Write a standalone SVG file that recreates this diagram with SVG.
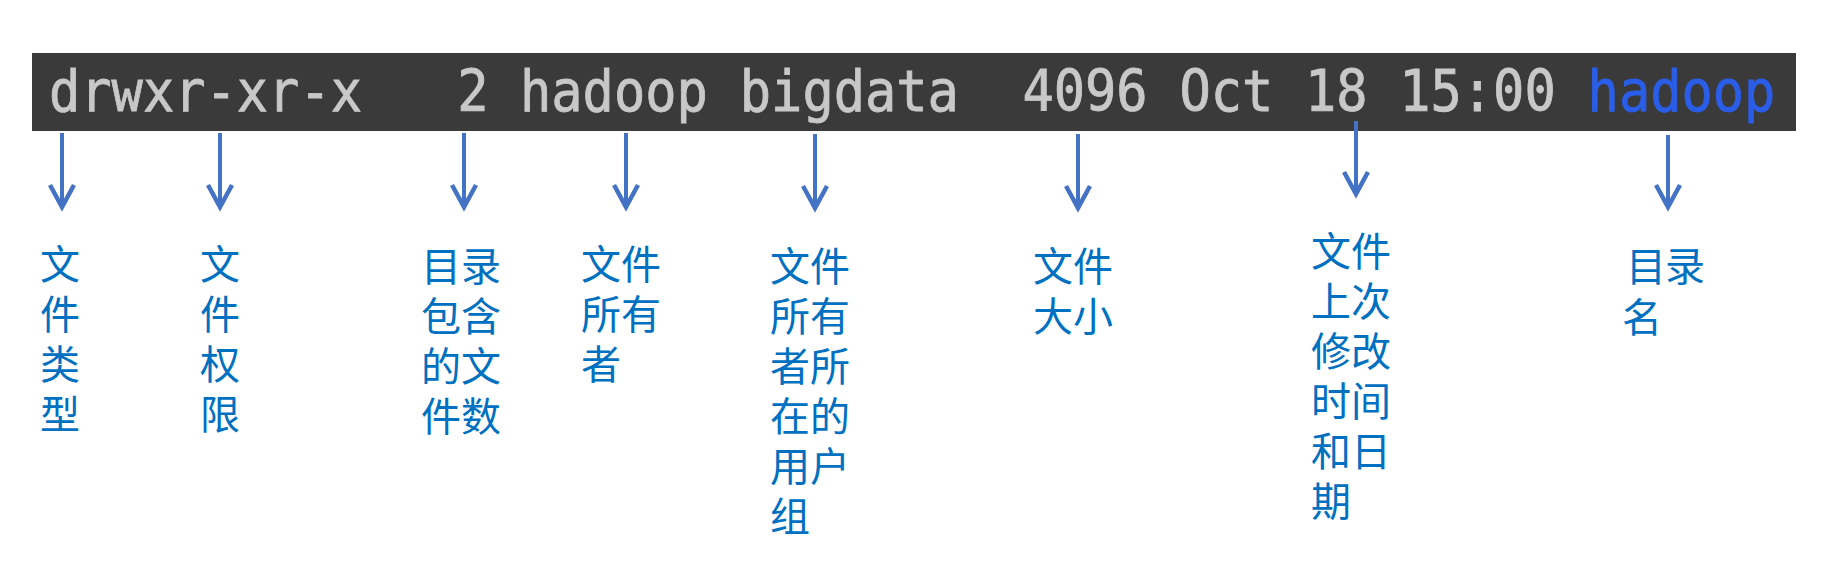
<svg xmlns="http://www.w3.org/2000/svg" width="1836" height="570" viewBox="0 0 1836 570">
<style>
.cmd{font-family:"DejaVu Sans Mono","Liberation Mono",monospace;font-size:52px;fill:#c8c8c8;stroke:#c8c8c8;stroke-width:0.8}
.dir{fill:#2a5ee8;stroke:#2a5ee8}
.lbl{font-family:"Noto Sans CJK SC","Noto Sans",sans-serif;font-size:40px;fill:#0070c0}
.arr line{stroke:#4472c4;stroke-width:4}
.arr polyline{stroke:#4472c4;stroke-width:4.5;fill:none;stroke-linejoin:miter}
</style>
<rect width="1836" height="570" fill="#fff"/>
<g id="bar">
<rect x="32" y="53" width="1764" height="78" fill="#3a3a3a"/>
<g transform="translate(0,111) scale(1,1.09)">
<text class="cmd" y="0"><tspan x="49">drwxr-xr-x</tspan><tspan x="457.2">2</tspan><tspan x="520">hadoop</tspan><tspan x="739.8">bigdata</tspan><tspan x="1022.4">4096</tspan><tspan x="1179.4">Oct</tspan><tspan x="1305">18</tspan><tspan x="1399.2">15:00</tspan><tspan class="dir" x="1587.6">hadoop</tspan></text>
</g>
</g>
<g id="connectors" class="arr">
<line x1="62" y1="133" x2="62" y2="206"/><polyline points="50,185 62,207 74,185"/>
<line x1="220" y1="133" x2="220" y2="206"/><polyline points="208,185 220,207 232,185"/>
<line x1="464" y1="133" x2="464" y2="206"/><polyline points="452,185 464,207 476,185"/>
<line x1="626" y1="133" x2="626" y2="206"/><polyline points="614,185 626,207 638,185"/>
<line x1="815" y1="134" x2="815" y2="207"/><polyline points="803,186 815,208 827,186"/>
<line x1="1078" y1="134" x2="1078" y2="207"/><polyline points="1066,186 1078,208 1090,186"/>
<line x1="1356" y1="121" x2="1356" y2="193"/><polyline points="1344,172 1356,194 1368,172"/>
<line x1="1668" y1="135" x2="1668" y2="206"/><polyline points="1656,185 1668,207 1680,185"/>
</g>
<g id="n-type"><text class="lbl"><tspan x="40" y="279">文</tspan><tspan x="40" y="329">件</tspan><tspan x="40" y="379">类</tspan><tspan x="40" y="429">型</tspan></text></g>
<g id="n-perm"><text class="lbl"><tspan x="200" y="279">文</tspan><tspan x="200" y="329">件</tspan><tspan x="200" y="379">权</tspan><tspan x="200" y="429">限</tspan></text></g>
<g id="n-count"><text class="lbl"><tspan x="421" y="281">目录</tspan><tspan x="421" y="331">包含</tspan><tspan x="421" y="381">的文</tspan><tspan x="421" y="431">件数</tspan></text></g>
<g id="n-owner"><text class="lbl"><tspan x="581" y="279">文件</tspan><tspan x="581" y="329">所有</tspan><tspan x="581" y="379">者</tspan></text></g>
<g id="n-group"><text class="lbl"><tspan x="770" y="281">文件</tspan><tspan x="770" y="331">所有</tspan><tspan x="770" y="381">者所</tspan><tspan x="770" y="431">在的</tspan><tspan x="770" y="481">用户</tspan><tspan x="770" y="531">组</tspan></text></g>
<g id="n-size"><text class="lbl"><tspan x="1033" y="281">文件</tspan><tspan x="1033" y="331">大小</tspan></text></g>
<g id="n-time"><text class="lbl"><tspan x="1311" y="266">文件</tspan><tspan x="1311" y="316">上次</tspan><tspan x="1311" y="366">修改</tspan><tspan x="1311" y="416">时间</tspan><tspan x="1311" y="466">和日</tspan><tspan x="1311" y="516">期</tspan></text></g>
<g id="n-name"><text class="lbl"><tspan x="1626" y="281">目</tspan><tspan x="1665" y="281">录</tspan><tspan x="1622" y="332">名</tspan></text></g>
</svg>
